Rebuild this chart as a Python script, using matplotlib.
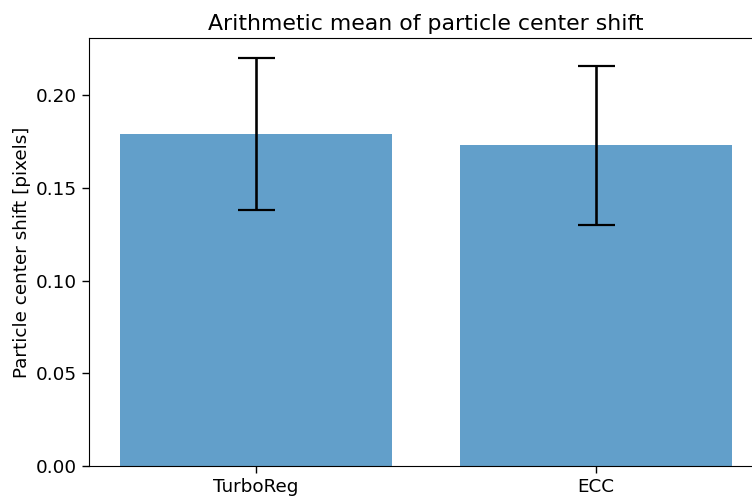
import matplotlib
matplotlib.use("Agg")
import matplotlib.pyplot as plt

# mean particle center shift per registration method, with std as error
methods = ["TurboReg", "ECC"]
mean_shift = [0.179, 0.173]
std_shift = [0.041, 0.043]


def main():
    dpi = 100
    fig = plt.figure(figsize=(7.52, 4.98), dpi=dpi)
    # axes runs a little past the right edge of the canvas
    ax = fig.add_axes([89 / 752, 32 / 498, 674 / 752, 428 / 498])

    ax.bar(methods, mean_shift, yerr=std_shift, alpha=0.7, color="tab:blue",
           capsize=18.5 * 72 / dpi,
           error_kw={"elinewidth": 2.6 * 72 / dpi, "capthick": 2.2 * 72 / dpi})

    ax.set_title("Arithmetic mean of particle center shift", fontsize=15.8)
    ax.set_ylabel("Particle center shift [pixels]", fontsize=13.2)
    ax.tick_params(labelsize=13.2, length=5, width=1)
    ax.set_yticks([0.0, 0.05, 0.10, 0.15, 0.20])
    ax.set_yticklabels(["{:.2f}".format(v) for v in [0.0, 0.05, 0.10, 0.15, 0.20]])

    fig.savefig("out.png", dpi=dpi)


if __name__ == "__main__":
    main()
